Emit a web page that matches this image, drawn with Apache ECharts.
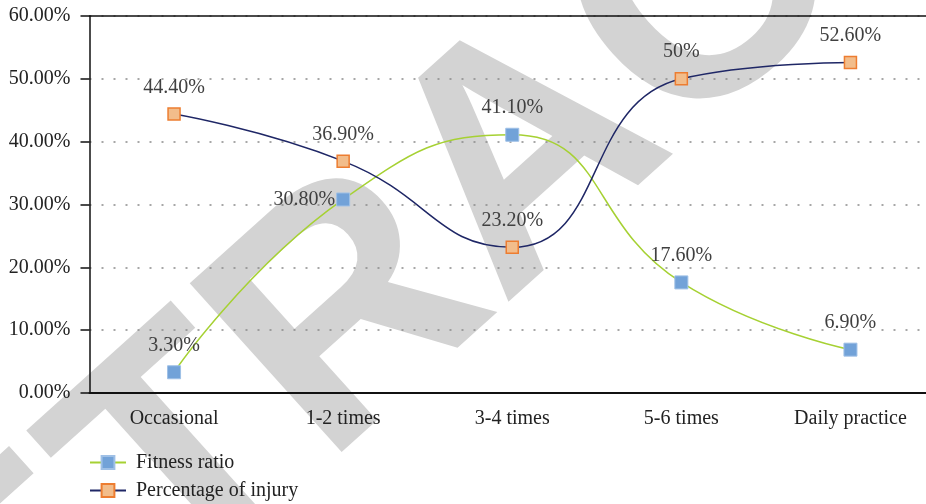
<!DOCTYPE html>
<html>
<head>
<meta charset="utf-8">
<script src="https://cdn.jsdelivr.net/npm/echarts@6/dist/echarts.min.js"></script>
<style>
  html, body { margin: 0; padding: 0; background: #fff; overflow: hidden; }
  /* the plot runs slightly past the right edge of the window */
  #chart { width: 935px; height: 504px; }
</style>
</head>
<body>
<div id="chart"></div>
<script>
// Training frequency categories
const categories = ['Occasional', '1-2 times', '3-4 times', '5-6 times', 'Daily practice'];
// Percent values per category
const fitnessRatio = [3.3, 30.8, 41.1, 17.6, 6.9];
const injuryRate = [44.4, 36.9, 23.2, 50, 52.6];
// Value axis ticks
const yTicks = [0, 10, 20, 30, 40, 50, 60];

const serif = '"Liberation Serif", "Times New Roman", serif';

function pct(v) {
  return Number.isInteger(v) ? v + '%' : v.toFixed(2) + '%';
}

const chart = echarts.init(document.getElementById('chart'), null, { renderer: 'canvas' });

chart.setOption({
  animation: false,
  backgroundColor: '#ffffff',
  graphic: [{
    type: 'text',
    silent: true,
    z: -100,
    x: 530,
    y: 160,
    rotation: 42 * Math.PI / 180,
    style: {
      text: 'RETRACTED',
      fill: '#d3d3d3',
      font: 'bold 330px "Liberation Sans", Arial, sans-serif',
      textAlign: 'center',
      textVerticalAlign: 'middle'
    }
  }],
  grid: { left: 89.5, top: 16, right: 0, bottom: 111, containLabel: false },
  legend: {
    orient: 'vertical',
    left: 89,
    top: 452,
    height: 60,
    padding: 0,
    itemWidth: 36,
    itemHeight: 16,
    itemGap: 7,
    textStyle: { fontFamily: serif, fontSize: 20, lineHeight: 21, color: '#222', padding: [0, 0, 0, 5] },
    data: ['Fitness ratio', 'Percentage of injury']
  },
  xAxis: [{
    type: 'category',
    data: categories,
    boundaryGap: true,
    axisLine: { lineStyle: { color: '#111', width: 2 } },
    axisTick: { alignWithLabel: true, length: 7, lineStyle: { color: '#333', width: 1.5 } },
    axisLabel: { fontFamily: serif, fontSize: 20, color: '#222', margin: 16 }
  }, {
    type: 'category',
    data: categories,
    position: 'top',
    axisLine: { lineStyle: { color: '#111', width: 1.5 } },
    axisTick: { show: false },
    axisLabel: { show: false }
  }],
  yAxis: {
    type: 'value',
    min: yTicks[0],
    max: yTicks[yTicks.length - 1],
    interval: 10,
    axisLine: { show: true, lineStyle: { color: '#111', width: 1.5 } },
    axisTick: { show: true, length: 9, lineStyle: { color: '#111', width: 1.5 } },
    axisLabel: {
      fontFamily: serif, fontSize: 20, color: '#222', margin: 19,
      formatter: v => v.toFixed(2) + '%'
    },
    splitLine: { show: true, lineStyle: { color: '#8a8a8a', width: 1.5, type: [2, 10] } }
  },
  series: [{
    name: 'Fitness ratio',
    type: 'line',
    data: fitnessRatio.map((v, i) => i === 1
      ? { value: v, label: { position: 'left', distance: 1 } }
      : v),
    smooth: 0.5,
    symbol: 'rect',
    symbolSize: 13,
    lineStyle: { color: '#a6d133', width: 1.5 },
    itemStyle: { color: '#72a2d8', borderColor: '#9fc0e6', borderWidth: 1 },
    label: {
      show: true,
      position: 'top',
      distance: 10,
      fontFamily: serif, fontSize: 20, color: '#404040',
      formatter: p => pct(p.value)
    },
    emphasis: { disabled: true },
    z: 3
  }, {
    name: 'Percentage of injury',
    type: 'line',
    data: injuryRate,
    smooth: 0.5,
    symbol: 'rect',
    symbolSize: 12,
    lineStyle: { color: '#1f2766', width: 1.5 },
    itemStyle: { color: '#f2bd8b', borderColor: '#ed7d31', borderWidth: 1.5 },
    label: {
      show: true,
      position: 'top',
      distance: 10,
      fontFamily: serif, fontSize: 20, color: '#404040',
      formatter: p => pct(p.value)
    },
    emphasis: { disabled: true },
    z: 3
  }]
});
</script>
</body>
</html>
